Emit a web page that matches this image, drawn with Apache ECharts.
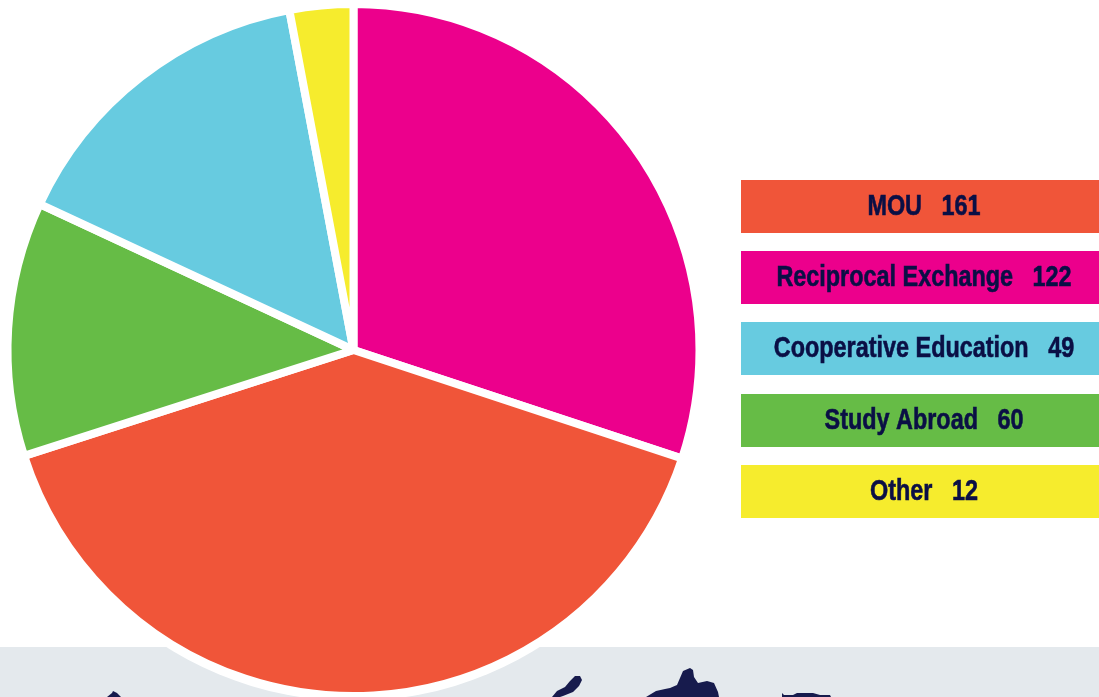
<!DOCTYPE html>
<html>
<head>
<meta charset="utf-8">
<title>Partnerships</title>
<style>
html, body { margin: 0; padding: 0; background: #fff; }
#main { width: 1099px; height: 697px; }
</style>
<script src="https://cdn.jsdelivr.net/npm/echarts@6/dist/echarts.min.js"></script>
</head>
<body>
<div id="main"></div>
<script>
// legend rows, top to bottom
var legendNames = ['MOU', 'Reciprocal Exchange', 'Cooperative Education', 'Study Abroad', 'Other'];
var legendValues = [161, 122, 49, 60, 12];
var legendColors = ['#f05539', '#ec008c', '#67cbe0', '#66bc46', '#f6ec2d'];
var legendTops = [180, 251, 322, 394, 465];

// slices clockwise from 12 o'clock. green and blue are the other
// way round from the numbers printed in the legend
var sliceNames = ['Reciprocal Exchange', 'MOU', 'Study Abroad', 'Cooperative Education', 'Other'];
var sliceValues = [121.5, 161.5, 48, 61, 12];
var sliceColors = ['#ec008c', '#f05539', '#66bc46', '#67cbe0', '#f6ec2d'];

// bits of the map peeking in at the bottom of the grey band
var mapShapes = [
    [[107, 697], [112, 693], [113, 691], [117, 693], [121, 697]],
    [[552, 697], [557, 691], [565, 687], [570, 681], [575, 676], [580, 676], [582, 680], [579, 686], [573, 692], [563, 696], [560, 697]],
    [[646, 697], [656, 691], [665, 689], [670, 688], [677, 685], [680, 678], [683, 671], [690, 668], [693, 670], [694, 677], [698, 683], [707, 681], [714, 683], [718, 692], [719, 697]],
    [[782, 697], [782, 693], [784, 695], [793, 695], [797, 693], [808, 693], [813, 693], [820, 695], [830, 695], [831, 697]]
];

var graphics = [
    { type: 'rect', z: 0, shape: { x: 0, y: 647, width: 1099, height: 50 }, style: { fill: '#e4e9ed' } },
    { type: 'circle', z: 1, shape: { cx: 353, cy: 350, r: 351 }, style: { fill: '#fff' } }
];
mapShapes.forEach(function (pts) {
    graphics.push({ type: 'polygon', z: 1, shape: { points: pts }, style: { fill: '#171b4d' } });
});
legendNames.forEach(function (name, i) {
    graphics.push({
        type: 'rect',
        z: 3,
        shape: { x: 741, y: legendTops[i], width: 358, height: 53 },
        style: { fill: legendColors[i] }
    });
    // no condensed face like the original is installed, so squeeze the text
    graphics.push({
        type: 'text',
        z: 4,
        x: 924,
        y: legendTops[i] + 27,
        scaleX: 0.78,
        style: {
            text: name + '   ' + legendValues[i],
            align: 'center',
            verticalAlign: 'middle',
            fill: '#0a0f45',
            stroke: '#0a0f45',
            lineWidth: 0.6,
            font: 'bold 30px "Liberation Sans", sans-serif'
        }
    });
});

var myChart = echarts.init(document.getElementById('main'));
var option = {
    animation: false,
    backgroundColor: '#fff',
    graphic: { elements: graphics },
    series: [
        {
            type: 'pie',
            center: [353.5, 350],
            radius: [0, 346],
            startAngle: 90,
            clockwise: true,
            silent: true,
            label: { show: false },
            labelLine: { show: false },
            itemStyle: { borderColor: '#fff', borderWidth: 8 },
            data: sliceNames.map(function (name, i) {
                return { name: name, value: sliceValues[i], itemStyle: { color: sliceColors[i] } };
            })
        }
    ]
};
myChart.setOption(option);
</script>
</body>
</html>
